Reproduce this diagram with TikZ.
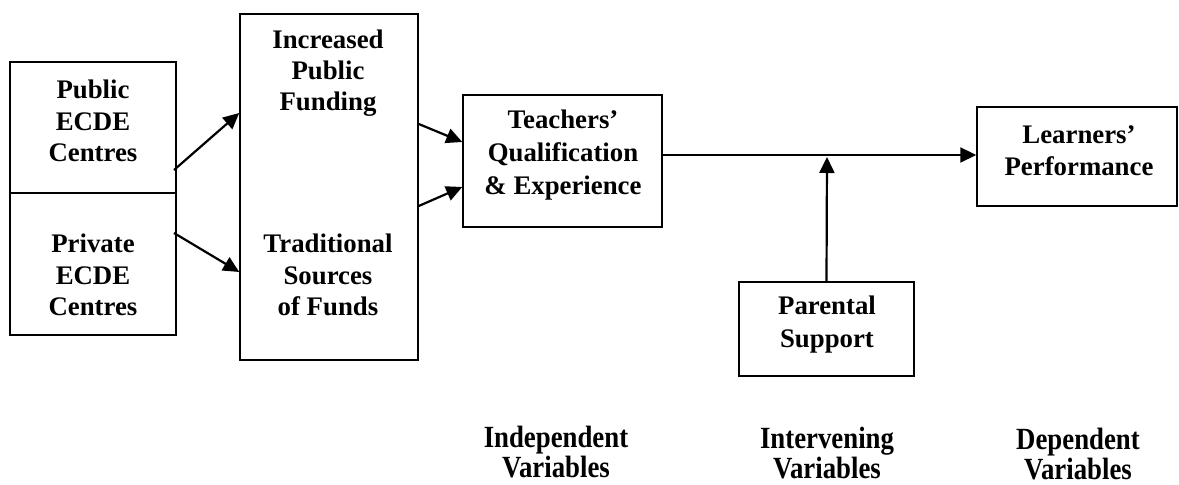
\documentclass[tikz,border=0pt]{standalone}
\usepackage{fontspec}
\setmainfont{Liberation Serif}
\usetikzlibrary{arrows.meta}
\begin{document}
\begin{tikzpicture}[x=0.5pt,y=-0.5pt,
  box/.style={draw,line width=0.75pt,inner sep=0pt},
  txt/.style={align=center,font=\fontsize{13.4}{15.6}\selectfont\bfseries,inner sep=0pt},
  lab/.style={align=center,font=\fontsize{13.4}{14.8}\selectfont\bfseries,inner sep=0pt},
  arr/.style={line width=1.1pt,-{Triangle[length=8pt,width=7.5pt]}}]
\useasboundingbox (0,0) rectangle (1179,485);
% boxes
\draw[box] (10,62) rectangle (176,335);
\draw[line width=1.4pt] (10,193) -- (176,193);
\node[box,minimum width=89pt,minimum height=173pt] (fund) at (329,187) {};
\node[box,minimum width=99.5pt,minimum height=66pt] (teach) at (562.5,161) {};
\node[box,minimum width=100pt,minimum height=49.5pt] (learn) at (1077,156.5) {};
\node[box,minimum width=87.5pt,minimum height=47pt] (par) at (826.5,329) {};
% texts
\node[txt] (pub) at (93,121) {Public\\ECDE\\Centres};
\node[txt] (priv) at (93,275) {Private\\ECDE\\Centres};
\node[txt] (inc) at (328,73) {Increased\\Public\\Funding};
\node[txt,font=\fontsize{13.4}{16.4}\selectfont\bfseries] (teachT) at (563,155) {Teachers’\\Qualification\\\&\ Experience};
\node[txt,font=\fontsize{13.4}{16}\selectfont\bfseries] (learnT) at (1079,151) {Learners’\\Performance};
\node[txt] (trad) at (328,275) {Traditional\\Sources\\of Funds};
\node[txt,font=\fontsize{13.4}{16.5}\selectfont\bfseries] (parT) at (827,325) {Parental\\Support};
\node[lab] (indep) at (556,452) {\scalebox{1}[1.15]{Independent}\\\scalebox{1}[1.15]{Variables}};
\node[lab] (interv) at (827,453) {\scalebox{1}[1.15]{Intervening}\\\scalebox{1}[1.15]{Variables}};
\node[lab] (dep) at (1078,454) {\scalebox{1}[1.15]{Dependent}\\\scalebox{1}[1.15]{Variables}};
% connector endpoints
\coordinate (a1) at (174,170);
\coordinate (a2) at (174,233);
\coordinate (f1) at (fund.west |- 0,113);
\coordinate (f2) at (fund.west |- 0,272);
\coordinate (b1) at (fund.east |- 0,124);
\coordinate (b2) at (fund.east |- 0,206);
\coordinate (t1) at (teach.west |- 0,142);
\coordinate (t2) at (teach.west |- 0,187);
\coordinate (m) at (827,155);
\draw[arr] (a1) -- (f1);
\draw[arr] (a2) -- (f2);
\draw[arr] (b1) -- (t1);
\draw[arr] (b2) -- (t2);
\draw[arr] (teach.east |- 0,155) -- (learn.west |- 0,155);
\draw[arr] (par.north) -- ([yshift=-1pt]m);
\end{tikzpicture}
\end{document}
